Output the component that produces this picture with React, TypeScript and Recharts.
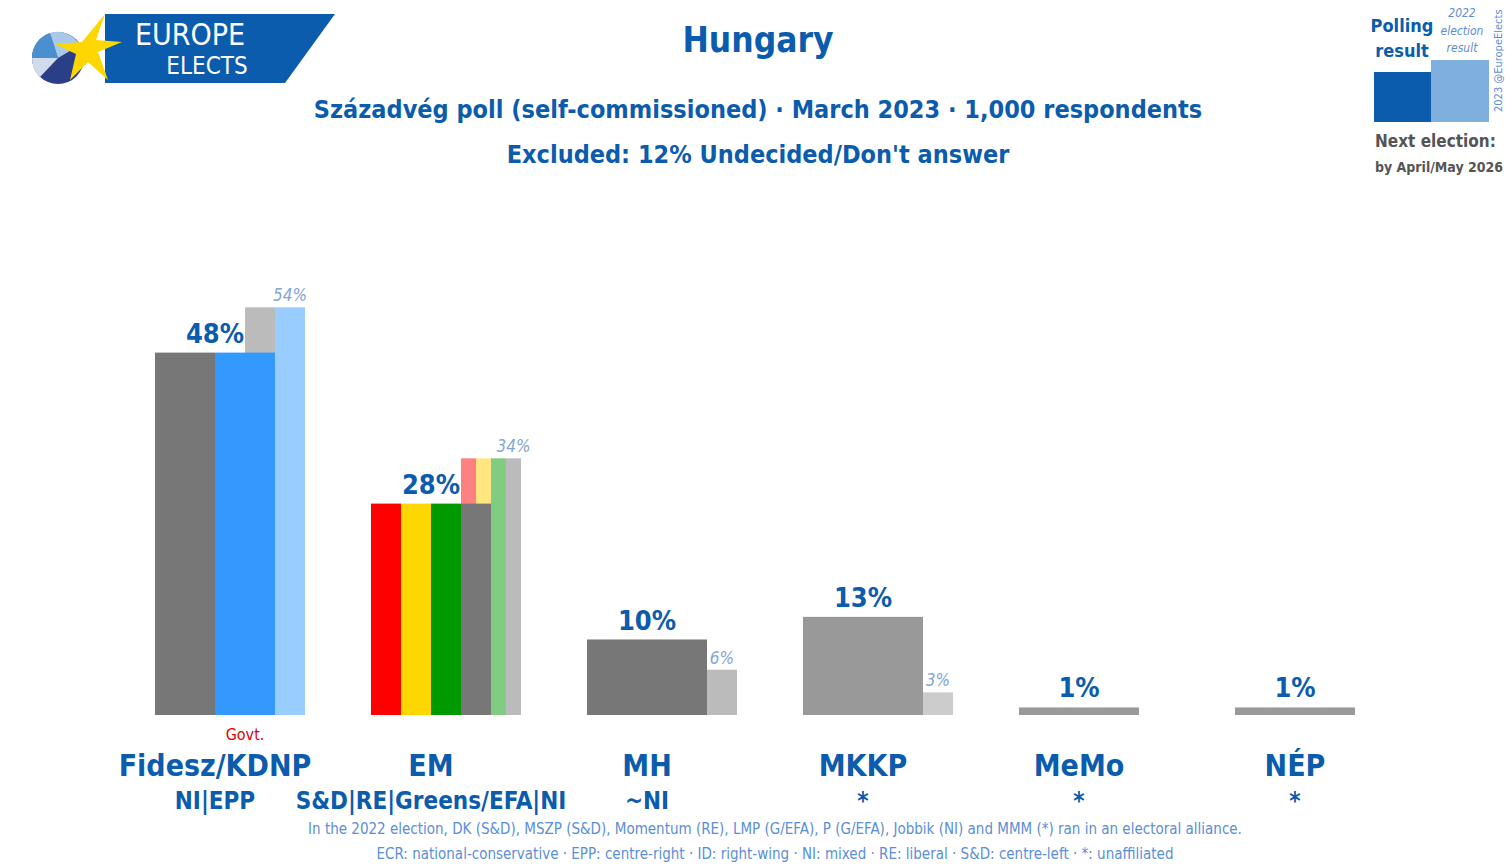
import { BarChart, Bar, XAxis, YAxis, LabelList } from "recharts";

const parties = ["Fidesz/KDNP", "EM", "MH", "MKKP", "MeMo", "NÉP"];
const groups = ["NI|EPP", "S&D|RE|Greens/EFA|NI", "~NI", "*", "*", "*"];
const poll = [48, 28, 10, 13, 1, 1];
const result2022 = [54, 34, 6, 3, null, null];
const pollColors = [
  ["#777777", "#3399ff"],
  ["#ff0000", "#ffd700", "#009900", "#777777"],
  ["#777777"],
  ["#999999"],
  ["#999999"],
  ["#999999"],
];
const resultColors = [
  ["#bbbbbb", "#99ccff"],
  ["#ff8080", "#ffe680", "#80cc80", "#bbbbbb"],
  ["#bbbbbb"],
  ["#cccccc"],
  [],
  [],
];
const govt = ["Govt.", "", "", "", "", ""];

const data = parties.map((p, i) => ({
  party: p,
  group: groups[i],
  poll: poll[i],
  result: result2022[i],
  idx: i,
}));

const BLUE = "#0b5cad";
const FONT = "'DejaVu Sans Condensed', 'DejaVu Sans', sans-serif";
const T: any = { fontFamily: FONT, fontStretch: "condensed" };

const PollShape = (props: any) => {
  const { x, y, width, height, index } = props;
  const cols = pollColors[index];
  const w = width / cols.length;
  return (
    <g>
      {cols.map((c, k) => (
        <rect key={k} x={x + k * w} y={y} width={w} height={height} fill={c} />
      ))}
    </g>
  );
};

const ResultShape = (props: any) => {
  const { x, y, width, height, index } = props;
  const cols = resultColors[index];
  if (!cols.length || !height) return null;
  const total = cols.length > 1 ? width / 2 : width / 4;
  const right = x + width + width / 4;
  const w = total / cols.length;
  const start = right - total;
  return (
    <g>
      {cols.map((c, k) => (
        <rect key={k} x={start + k * w} y={y} width={w} height={height} fill={c} />
      ))}
    </g>
  );
};

const ResultLabel = (props: any) => {
  const { x, y, width, value, index } = props;
  if (value == null) return null;
  const cols = resultColors[index];
  const total = cols.length > 1 ? width / 2 : width / 4;
  const w = total / cols.length;
  const right = x + width + width / 4;
  return (
    <text x={right - w / 2} y={y - 6} textAnchor="middle" fill="#7fa6d6" fontSize={17} fontStyle="italic" style={T}>
      {value}%
    </text>
  );
};

const PollLabel = (props: any) => {
  const { x, y, width, value } = props;
  return (
    <text x={x + width / 2} y={y - 10} textAnchor="middle" fill={BLUE} fontSize={27} fontWeight="bold" style={T}>
      {value}%
    </text>
  );
};

const PartyTick = (props: any) => {
  const { x, y, payload } = props;
  const i = payload.index;
  return (
    <g>
      <text x={x + 30} y={y + 17} textAnchor="middle" fill="#e00000" fontSize={16} style={T}>{govt[i]}</text>
      <text x={x} y={y + 53} textAnchor="middle" fill={BLUE} fontSize={30} fontWeight="bold" style={T}>{parties[i]}</text>
      <text x={x} y={y + 86} textAnchor="middle" fill={BLUE} fontSize={24} fontWeight="bold" style={T}>{groups[i]}</text>
    </g>
  );
};

export default function App() {
  return (
    <div style={{ position: "absolute", left: 0, top: 0, width: 1512, height: 868, background: "#fff", ...T, overflow: "hidden" }}>
      <svg style={{ position: "absolute", left: 0, top: 0 }} width={340} height={90}>
        <polygon points="105,14 335,14 285,83 105,83" fill="#0b5cad" />
        <circle cx={58} cy={58} r={26} fill="#2a3f87" />
        <path d="M58,58 L32,58 A26,26 0 0 1 50,33 Z" fill="#4a8fcf" />
        <path d="M58,58 L50,33 A26,26 0 0 1 80,45 Z" fill="#a9c9e8" />
        <path d="M58,58 L40,77 A26,26 0 0 1 32,58 Z" fill="#d0dcea" />
        <polygon points="105,14 96,40 122,42 98,52 108,80 88,62 70,80 76,54 55,44 82,42" fill="#ffd700" />
        <text x={190} y={45} textAnchor="middle" fill="#fff" fontSize={30} style={T}>EUROPE</text>
        <text x={207} y={74} textAnchor="middle" fill="#fff" fontSize={24} style={T}>ELECTS</text>
      </svg>
      <div style={{ position: "absolute", left: 0, width: 1516, top: 20, textAlign: "center", color: BLUE, fontSize: 35, fontWeight: "bold" }}>Hungary</div>
      <div style={{ position: "absolute", left: 0, width: 1516, top: 95, textAlign: "center", color: BLUE, fontSize: 25, fontWeight: "bold" }}>
        Századvég poll (self-commissioned) · March 2023 · 1,000 respondents
      </div>
      <div style={{ position: "absolute", left: 0, width: 1516, top: 140, textAlign: "center", color: BLUE, fontSize: 25, fontWeight: "bold" }}>
        Excluded: 12% Undecided/Don't answer
      </div>
      <svg style={{ position: "absolute", left: 1365, top: 0 }} width={147} height={180}>
        <text x={37} y={32} textAnchor="middle" fill={BLUE} fontSize={18} fontWeight="bold" style={T}>Polling</text>
        <text x={37} y={57} textAnchor="middle" fill={BLUE} fontSize={18} fontWeight="bold" style={T}>result</text>
        <text x={97} y={17} textAnchor="middle" fill="#5b8ed6" fontSize={12} fontStyle="italic" style={T}>2022</text>
        <text x={97} y={35} textAnchor="middle" fill="#5b8ed6" fontSize={12} fontStyle="italic" style={T}>election</text>
        <text x={97} y={52} textAnchor="middle" fill="#5b8ed6" fontSize={12} fontStyle="italic" style={T}>result</text>
        <rect x={9} y={72} width={60} height={50} fill="#0b5cad" />
        <rect x={66} y={60} width={58} height={62} fill="#7fb0dd" />
        <text x={137} y={112} transform="rotate(-90 137 112)" fill="#5b8ed6" fontSize={11} style={T}>2023 @EuropeElects</text>
        <text x={10} y={147} fill="#555" fontSize={17} fontWeight="bold" style={T}>Next election:</text>
        <text x={10} y={172} fill="#555" fontSize={14} fontWeight="bold" style={T}>by April/May 2026</text>
      </svg>
      <BarChart width={1512} height={868} data={data} margin={{ top: 262, right: 109, bottom: 53, left: 107 }} barCategoryGap={48}>
        <XAxis xAxisId="a" dataKey="party" axisLine={false} tickLine={false} height={100} interval={0} tick={<PartyTick />} />
        <XAxis xAxisId="b" dataKey="party" hide />
        <YAxis domain={[0, 60]} hide />
        <Bar xAxisId="b" dataKey="result" barSize={120} shape={<ResultShape />} isAnimationActive={false}>
          <LabelList dataKey="result" content={<ResultLabel />} />
        </Bar>
        <Bar xAxisId="a" dataKey="poll" barSize={120} shape={<PollShape />} isAnimationActive={false}>
          <LabelList dataKey="poll" content={<PollLabel />} />
        </Bar>
      </BarChart>
      <div style={{ position: "absolute", left: 0, width: 1550, top: 820, textAlign: "center", color: "#5b8ed6", fontSize: 15 }}>
        In the 2022 election, DK (S&amp;D), MSZP (S&amp;D), Momentum (RE), LMP (G/EFA), P (G/EFA), Jobbik (NI) and MMM (*) ran in an electoral alliance.
      </div>
      <div style={{ position: "absolute", left: 0, width: 1550, top: 845, textAlign: "center", color: "#5b8ed6", fontSize: 15 }}>
        ECR: national-conservative · EPP: centre-right · ID: right-wing · NI: mixed · RE: liberal · S&amp;D: centre-left · *: unaffiliated
      </div>
    </div>
  );
}
